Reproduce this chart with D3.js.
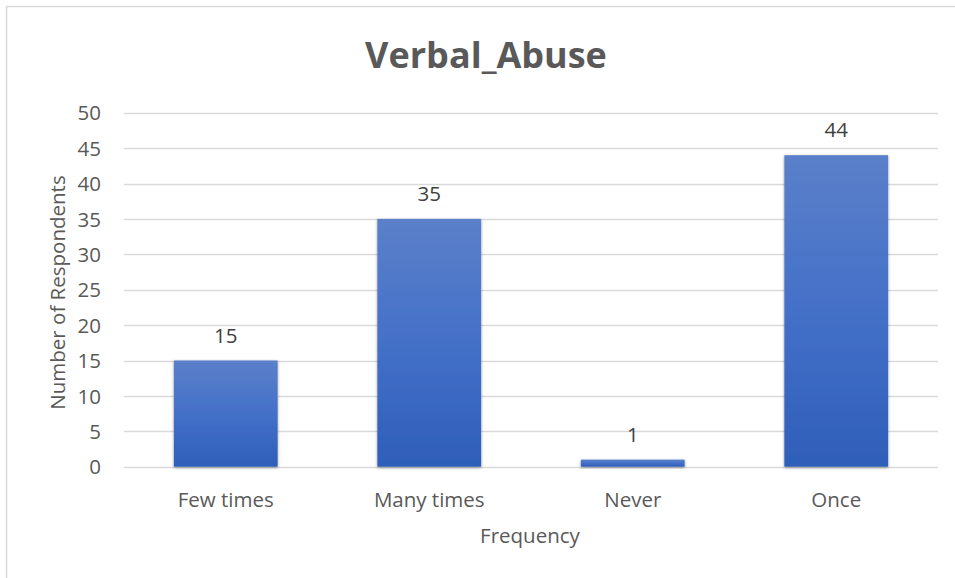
<!DOCTYPE html>
<html>
<head>
<meta charset="utf-8">
<script src="https://cdn.jsdelivr.net/npm/d3@7"></script>
<style>
  html, body { margin: 0; padding: 0; background: #fff; }
  svg { display: block; }
</style>
</head>
<body>
<svg id="chart" width="955" height="578"></svg>
<script>
const categories = ["Few times", "Many times", "Never", "Once"];
const values = [15, 35, 1, 44];
const yTicks = [0, 5, 10, 15, 20, 25, 30, 35, 40, 45, 50];
const titleText = "Verbal_Abuse";
const xTitle = "Frequency";
const yTitle = "Number of Respondents";

(function () {
const svg = d3.select("#chart");
const W = 955, H = 578;
const font = "'Open Sans', 'Noto Sans', sans-serif";
const textColor = "#595959";
const fs = 20.5;

// chart border
svg.append("rect").attr("x", 6.5).attr("y", 6.5).attr("width", W).attr("height", H)
  .attr("fill", "#fff").attr("stroke", "#d9d9d9").attr("stroke-width", 1.5);

const defs = svg.append("defs");
const grad = defs.append("linearGradient").attr("id", "barGrad")
  .attr("x1", 0).attr("y1", 0).attr("x2", 0).attr("y2", 1);
grad.append("stop").attr("offset", "0%").attr("stop-color", "#5b80c9");
grad.append("stop").attr("offset", "50%").attr("stop-color", "#4470c8");
grad.append("stop").attr("offset", "100%").attr("stop-color", "#2e5eb9");

const flt = defs.append("filter").attr("id", "shadow")
  .attr("x", "-20%").attr("y", "-20%").attr("width", "140%").attr("height", "140%");
flt.append("feDropShadow").attr("dx", 0).attr("dy", 1).attr("stdDeviation", 1.8)
  .attr("flood-color", "#000").attr("flood-opacity", 0.4);

const pLeft = 124, pRight = 938, pTop = 112.7, pBottom = 466.7;

const x = d3.scaleBand().domain(categories).range([pLeft, pRight])
  .paddingInner(0.49).paddingOuter(0.245);
const y = d3.scaleLinear().domain([0, 50]).range([pBottom, pTop]);

// gridlines
svg.append("g").selectAll("line").data(yTicks).join("line")
  .attr("x1", pLeft).attr("x2", pRight)
  .attr("y1", d => Math.round(y(d)) + 0.5).attr("y2", d => Math.round(y(d)) + 0.5)
  .attr("stroke", "#d9d9d9").attr("stroke-width", 1.3);

// y axis labels
const yAxis = d3.axisLeft(y).tickValues(yTicks).tickSize(0).tickPadding(0);
const gy = svg.append("g").attr("transform", `translate(101,0)`).call(yAxis);
gy.select(".domain").remove();
gy.selectAll("text").attr("font-family", font).attr("font-size", fs)
  .attr("fill", textColor).attr("dy", "0.35em");

// bars
svg.append("g").selectAll("rect").data(values).join("rect")
  .attr("x", (d, i) => x(categories[i]))
  .attr("width", x.bandwidth())
  .attr("y", d => y(d))
  .attr("height", d => y(0) - y(d))
  .attr("fill", "url(#barGrad)")
  .attr("filter", "url(#shadow)");

// data labels
svg.append("g").selectAll("text").data(values).join("text")
  .attr("x", (d, i) => x(categories[i]) + x.bandwidth() / 2)
  .attr("y", d => y(d) - 18)
  .attr("text-anchor", "middle")
  .attr("font-family", font).attr("font-size", fs).attr("fill", "#404040")
  .text(d => d);

// x axis labels
const xAxis = d3.axisBottom(x).tickSize(0).tickPadding(0);
const gx = svg.append("g").attr("transform", `translate(0,${pBottom})`).call(xAxis);
gx.select(".domain").remove();
gx.selectAll("text").attr("font-family", font).attr("font-size", fs)
  .attr("fill", textColor).attr("dy", null).attr("y", 40);

// title
svg.append("text").attr("x", 486).attr("y", 68).attr("text-anchor", "middle")
  .attr("font-family", font).attr("font-weight", "bold").attr("font-size", 36)
  .attr("fill", textColor).text(titleText);

// axis titles
svg.append("text").attr("x", 530).attr("y", 543).attr("text-anchor", "middle")
  .attr("font-family", font).attr("font-size", fs).attr("fill", textColor).text(xTitle);

svg.append("text").attr("transform", `translate(65,${(175 + 410) / 2}) rotate(-90)`)
  .attr("text-anchor", "middle")
  .attr("font-family", font).attr("font-size", fs).attr("fill", textColor).text(yTitle);
})();
</script>
</body>
</html>
